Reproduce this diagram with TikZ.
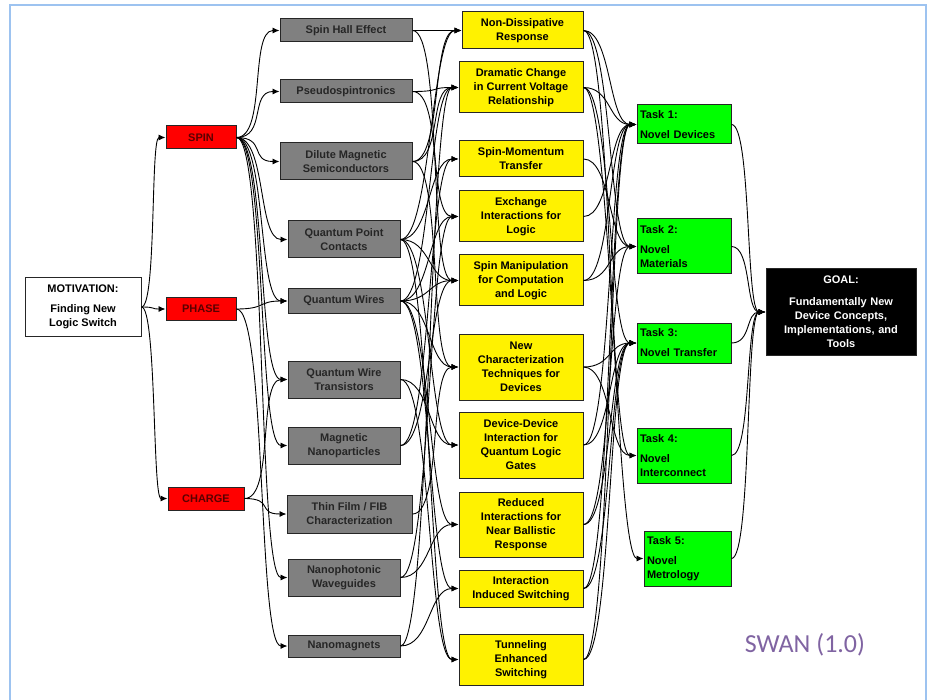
\documentclass[tikz,border=0pt]{standalone}
\usepackage{fontspec}
\setmainfont{Liberation Sans}
\newfontfamily\swanfont{Carlito}
\usepackage{xcolor}
\usetikzlibrary{shapes,arrows,arrows.meta,positioning,calc}
\definecolor{frameblue}{RGB}{157,195,240}
\definecolor{boxgray}{RGB}{128,128,128}
\definecolor{darkred}{RGB}{90,0,0}
\definecolor{swanpurple}{RGB}{128,100,162}
\tikzset{
  basebox/.style={draw=black!85, line width=1pt, font=\bfseries\fontsize{11}{14}\selectfont, align=center, inner sep=2pt},
  motbox/.style={basebox, fill=white},
  redbox/.style={basebox, fill=red, text=darkred},
  graybox/.style={basebox, fill=boxgray, text=black!85},
  yelbox/.style={basebox, fill=yellow},
  taskbox/.style={basebox, fill=green, align=left, text width=88pt, inner sep=3pt},
  goalbox/.style={basebox, fill=black, text=white, text width=144pt},
  link/.style={-{Latex[length=7pt,width=6pt]}, line width=0.9pt, out=0, in=180, distance=28pt},
}
\begin{document}
\begin{tikzpicture}[x=1pt,y=-1pt]
\clip (0,0) rectangle (928,700);
\draw[frameblue, line width=2.2pt] (10,5) rectangle (926,720);

% Motivation and branches
\node[motbox, minimum width=116pt, minimum height=58pt] (mot) at (83,307) {MOTIVATION:\\[6pt]Finding New\\Logic Switch};
\node[redbox, minimum width=70pt, minimum height=23pt] (spin) at (201,137.5) {SPIN};
\node[redbox, minimum width=70pt, minimum height=22pt] (phase) at (201,309) {PHASE};
\node[redbox, minimum width=76pt, minimum height=23pt] (charge) at (206,498.5) {CHARGE};

% Physical phenomena
\node[graybox, minimum width=132pt, minimum height=23pt] (she) at (346,30.5) {Spin Hall Effect};
\node[graybox, minimum width=132pt, minimum height=23pt] (pseudo) at (346,91.5) {Pseudospintronics};
\node[graybox, minimum width=132pt, minimum height=37pt] (dms) at (346,161.5) {Dilute Magnetic\\Semiconductors};
\node[graybox, minimum width=112pt, minimum height=37pt] (qpc) at (344,239.5) {Quantum Point\\Contacts};
\node[graybox, minimum width=112pt, minimum height=24pt] (qw) at (344,301) {Quantum Wires};
\node[graybox, minimum width=112pt, minimum height=37pt] (qwt) at (344,379.5) {Quantum Wire\\Transistors};
\node[graybox, minimum width=112pt, minimum height=37pt] (magnano) at (344,445.5) {Magnetic\\Nanoparticles};
\node[graybox, minimum width=125pt, minimum height=38pt] (thinfilm) at (349.5,514) {Thin Film / FIB\\Characterization};
\node[graybox, minimum width=112pt, minimum height=37pt] (nanophot) at (344,577.5) {Nanophotonic\\Waveguides};
\node[graybox, minimum width=112pt, minimum height=22pt] (nanomag) at (344,646) {Nanomagnets};

% Effects
\node[yelbox, minimum width=121pt, minimum height=37pt] (nondiss) at (522.5,30.5) {Non-Dissipative\\Response};
\node[yelbox, minimum width=124pt, minimum height=51pt] (dramatic) at (521,87.5) {Dramatic Change\\in Current Voltage\\Relationship};
\node[yelbox, minimum width=124pt, minimum height=36pt] (momentum) at (521,159) {Spin-Momentum\\Transfer};
\node[yelbox, minimum width=124pt, minimum height=51pt] (exchange) at (521,216.5) {Exchange\\Interactions for\\Logic};
\node[yelbox, minimum width=124pt, minimum height=51pt] (manip) at (521,280.5) {Spin Manipulation\\for Computation\\and Logic};
\node[yelbox, minimum width=124pt, minimum height=66pt] (newchar) at (521,367) {New\\Characterization\\Techniques for\\Devices};
\node[yelbox, minimum width=124pt, minimum height=66pt] (devdev) at (521,445) {Device-Device\\Interaction for\\Quantum Logic\\Gates};
\node[yelbox, minimum width=124pt, minimum height=65pt] (reduced) at (521,524.5) {Reduced\\Interactions for\\Near Ballistic\\Response};
\node[yelbox, minimum width=124pt, minimum height=37pt] (induced) at (521,588.5) {Interaction\\Induced Switching};
\node[yelbox, minimum width=124pt, minimum height=51pt] (tunnel) at (521,659.5) {Tunneling\\Enhanced\\Switching};

% Tasks and goal
\node[taskbox, minimum width=94pt, minimum height=39pt] (task1) at (684,124.5) {Task 1:\\[6pt]Novel Devices};
\node[taskbox, minimum width=94pt, minimum height=55pt] (task2) at (684,246.5) {Task 2:\\[6pt]Novel\\Materials};
\node[taskbox, minimum width=94pt, minimum height=40pt] (task3) at (684,343) {Task 3:\\[6pt]Novel Transfer};
\node[taskbox, minimum width=94pt, minimum height=55pt] (task4) at (684,455.5) {Task 4:\\[6pt]Novel\\Interconnect};
\node[taskbox, minimum width=87pt, minimum height=55pt, text width=81pt] (task5) at (687.5,558.5) {Task 5:\\[6pt]Novel\\Metrology};
\node[goalbox, minimum width=150pt, minimum height=86pt] (goal) at (841,312) {GOAL:\\[8pt]Fundamentally New\\Device Concepts,\\Implementations, and\\Tools};

\node[text=swanpurple, font=\swanfont\fontsize{26}{30}\selectfont] (swan) at (805,645) {SWAN (1.0)};

% Links
\path[link, distance=15pt] (mot.east) edge (spin.west) edge (phase.west) edge (charge.west);
\path[link, distance=30pt] (spin.east) edge (she.west) edge (pseudo.west) edge (dms.west) edge (qpc.west) edge (qw.west) edge (qwt.west) edge (magnano.west) edge (nanophot.west);
\path[link, distance=30pt] (phase.east) edge (qw.west) edge (nanomag.west);
\path[link, distance=30pt] (charge.east) edge (qwt.west) edge (thinfilm.west);

\path[link, distance=30pt] (she.east) edge (nondiss.west) edge (manip.west);
\path[link, distance=30pt] (pseudo.east) edge (dramatic.west) edge (exchange.west);
\path[link, distance=30pt] (dms.east) edge (nondiss.west) edge (dramatic.west) edge (newchar.west);
\path[link, distance=30pt] (qpc.east) edge (nondiss.west) edge (momentum.west) edge (manip.west) edge (devdev.west) edge (tunnel.west);
\path[link, distance=30pt] (qw.east) edge (dramatic.west) edge (exchange.west) edge (manip.west) edge (newchar.west) edge (reduced.west) edge (induced.west);
\path[link, distance=30pt] (qwt.east) edge (devdev.west) edge (tunnel.west);
\path[link, distance=30pt] (magnano.east) edge (momentum.west) edge (manip.west);
\path[link, distance=30pt] (thinfilm.east) edge (newchar.west);
\path[link, distance=30pt] (nanophot.east) edge (reduced.west) edge (exchange.west);
\path[link, distance=30pt] (nanomag.east) edge (induced.west) edge (dramatic.west);

\path[link] (nondiss.east) edge (task1.west) edge (task2.west) edge (task4.west);
\path[link] (dramatic.east) edge (task1.west) edge (task3.west) edge (task5.west);
\path[link] (momentum.east) edge (task2.west);
\path[link] (exchange.east) edge (task1.west);
\path[link] (manip.east) edge (task1.west) edge (task2.west);
\path[link] (newchar.east) edge (task3.west) edge (task4.west);
\path[link] (devdev.east) edge (task1.west) edge (task3.west);
\path[link] (reduced.east) edge (task2.west) edge (task3.west);
\path[link] (induced.east) edge (task1.west) edge (task3.west);
\path[link] (tunnel.east) edge (task1.west) edge (task3.west);

\path[link, distance=20pt] (task1.east) edge (goal.west);
\path[link, distance=20pt] (task2.east) edge (goal.west);
\path[link, distance=20pt] (task3.east) edge (goal.west);
\path[link, distance=20pt] (task4.east) edge (goal.west);
\path[link, distance=20pt] (task5.east) edge (goal.west);

\end{tikzpicture}
\end{document}
